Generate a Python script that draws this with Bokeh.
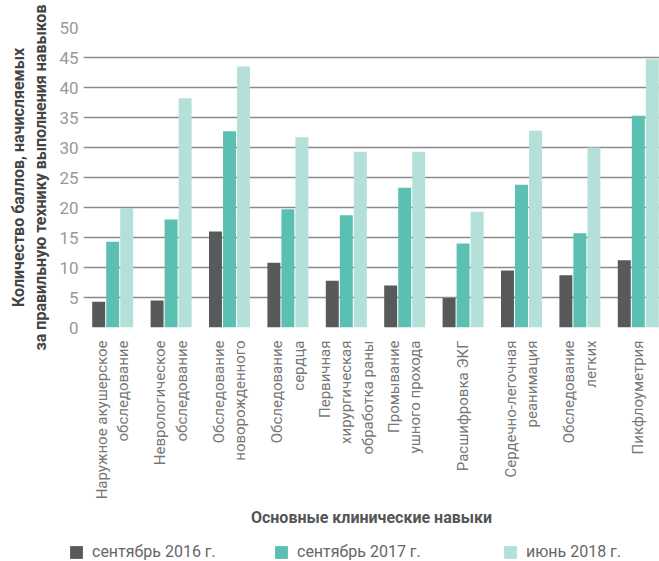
import numpy as np
from bokeh.plotting import figure
from bokeh.layouts import column, row
from bokeh.models import Range1d, FixedTicker, Legend, LegendItem, ColumnDataSource
from bokeh.embed import file_html
from bokeh.resources import INLINE

skills = [
    "Наружное акушерское\nобследование",
    "Неврологическое\nобследование",
    "Обследование\nноворожденного",
    "Обследование\nсердца",
    "Первичная\nхирургическая\nобработка раны",
    "Промывание\nушного прохода",
    "Расшифровка ЭКГ",
    "Сердечно-легочная\nреанимация",
    "Обследование\nлегких",
    "Пикфлоуметрия",
]
sep2016 = [4.3, 4.5, 16.0, 10.8, 7.8, 7.0, 4.9, 9.5, 8.7, 11.2]
sep2017 = [14.3, 18.0, 32.7, 19.7, 18.7, 23.3, 14.0, 23.8, 15.7, 35.3]
jun2018 = [19.9, 38.2, 43.5, 31.7, 29.3, 29.3, 19.3, 32.8, 30.0, 44.7]
series_names = ["сентябрь 2016 г.", "сентябрь 2017 г.", "июнь 2018 г."]
y_ticks = [0, 5, 10, 15, 20, 25, 30, 35, 40, 45, 50]

colors = ["#58595b", "#5bc0b1", "#b3e1d9"]
FONT = "Roboto"

centers = np.arange(len(skills)) + 0.5

p = figure(width=659, height=538, output_backend="svg", toolbar_location=None,
           x_range=Range1d(0, 9.863), y_range=Range1d(0, 50),
           min_border_left=83, min_border_right=0, min_border_top=27,
           min_border_bottom=211)
p.outline_line_color = None
p.background_fill_color = "white"
p.border_fill_color = "white"

sources = []
renderers = []
for k, (vals, off) in enumerate(zip([sep2016, sep2017, jun2018], [-0.24, 0.0, 0.24])):
    src = ColumnDataSource(dict(x=centers + off, top=vals))
    sources.append(src)
    r = p.vbar(x="x", top="top", bottom=0, width=0.222, source=src,
               fill_color=colors[k], line_color=None)
    renderers.append(r)

# axes
p.xaxis.ticker = FixedTicker(ticks=list(centers))
p.xaxis.major_label_overrides = {float(c): s for c, s in zip(centers, skills)}
p.xaxis.major_label_orientation = np.pi / 2
p.xaxis.major_label_text_font = FONT
p.xaxis.major_label_text_font_size = "15px"
p.xaxis.major_label_text_color = "#777777"
p.xaxis.major_label_standoff = 13
p.xaxis.axis_line_color = None
p.xaxis.major_tick_line_color = None
p.xaxis.minor_tick_line_color = None
p.xaxis.major_tick_out = 0
p.xaxis.major_tick_in = 0
p.xaxis.axis_label = "Основные клинические навыки"
p.xaxis.axis_label_text_font = FONT
p.xaxis.axis_label_text_font_style = "bold"
p.xaxis.axis_label_text_font_size = "16px"
p.xaxis.axis_label_text_color = "#555555"
p.xaxis.axis_label_standoff = 6

p.yaxis.ticker = FixedTicker(ticks=y_ticks)
p.yaxis.major_label_text_font = FONT
p.yaxis.major_label_text_font_size = "17px"
p.yaxis.major_label_text_color = "#999999"
p.yaxis.major_label_standoff = 5
p.yaxis.axis_line_color = None
p.yaxis.major_tick_line_color = None
p.yaxis.minor_tick_line_color = None
p.yaxis.major_tick_out = 0
p.yaxis.major_tick_in = 0
p.yaxis.axis_label = "Количество баллов, начисляемых\nза правильную технику выполнения навыков"
p.yaxis.axis_label_text_font = FONT
p.yaxis.axis_label_text_font_style = "bold"
p.yaxis.axis_label_text_font_size = "16px"
p.yaxis.axis_label_text_color = "#444444"
p.yaxis.axis_label_standoff = 6

p.xgrid.grid_line_color = None
p.ygrid.ticker = FixedTicker(ticks=y_ticks)
p.ygrid.grid_line_color = "#8a8a8a"
p.ygrid.grid_line_width = 1.6

# legend strip below the chart (its glyphs share the data, kept out of view)
lf = figure(width=659, height=23, output_backend="svg", toolbar_location=None,
            x_range=Range1d(0, 659), y_range=Range1d(1000, 1023),
            x_axis_location=None, y_axis_location=None,
            min_border_left=0, min_border_right=0,
            min_border_top=0, min_border_bottom=0)
lf.outline_line_color = None
lf.grid.visible = False
lleg = []
for k in range(3):
    lleg.append(lf.vbar(x="x", top="top", bottom=0, width=0.222, source=sources[k],
                        fill_color=colors[k], line_color=None))
leg_x = [68, 273, 502]
for k in range(3):
    lg = Legend(items=[LegendItem(label=series_names[k], renderers=[lleg[k]])],
                location=(leg_x[k], 0), orientation="horizontal",
                padding=0, margin=0, spacing=0, glyph_width=16, glyph_height=16,
                label_standoff=8, border_line_color=None, background_fill_alpha=0,
                label_text_font=FONT, label_text_font_size="16px",
                label_text_color="#666666", label_height=16)
    lf.add_layout(lg, "center")

layout = column(p, row(lf, spacing=0), spacing=0)
open("out.html", "w").write(file_html(layout, INLINE))
